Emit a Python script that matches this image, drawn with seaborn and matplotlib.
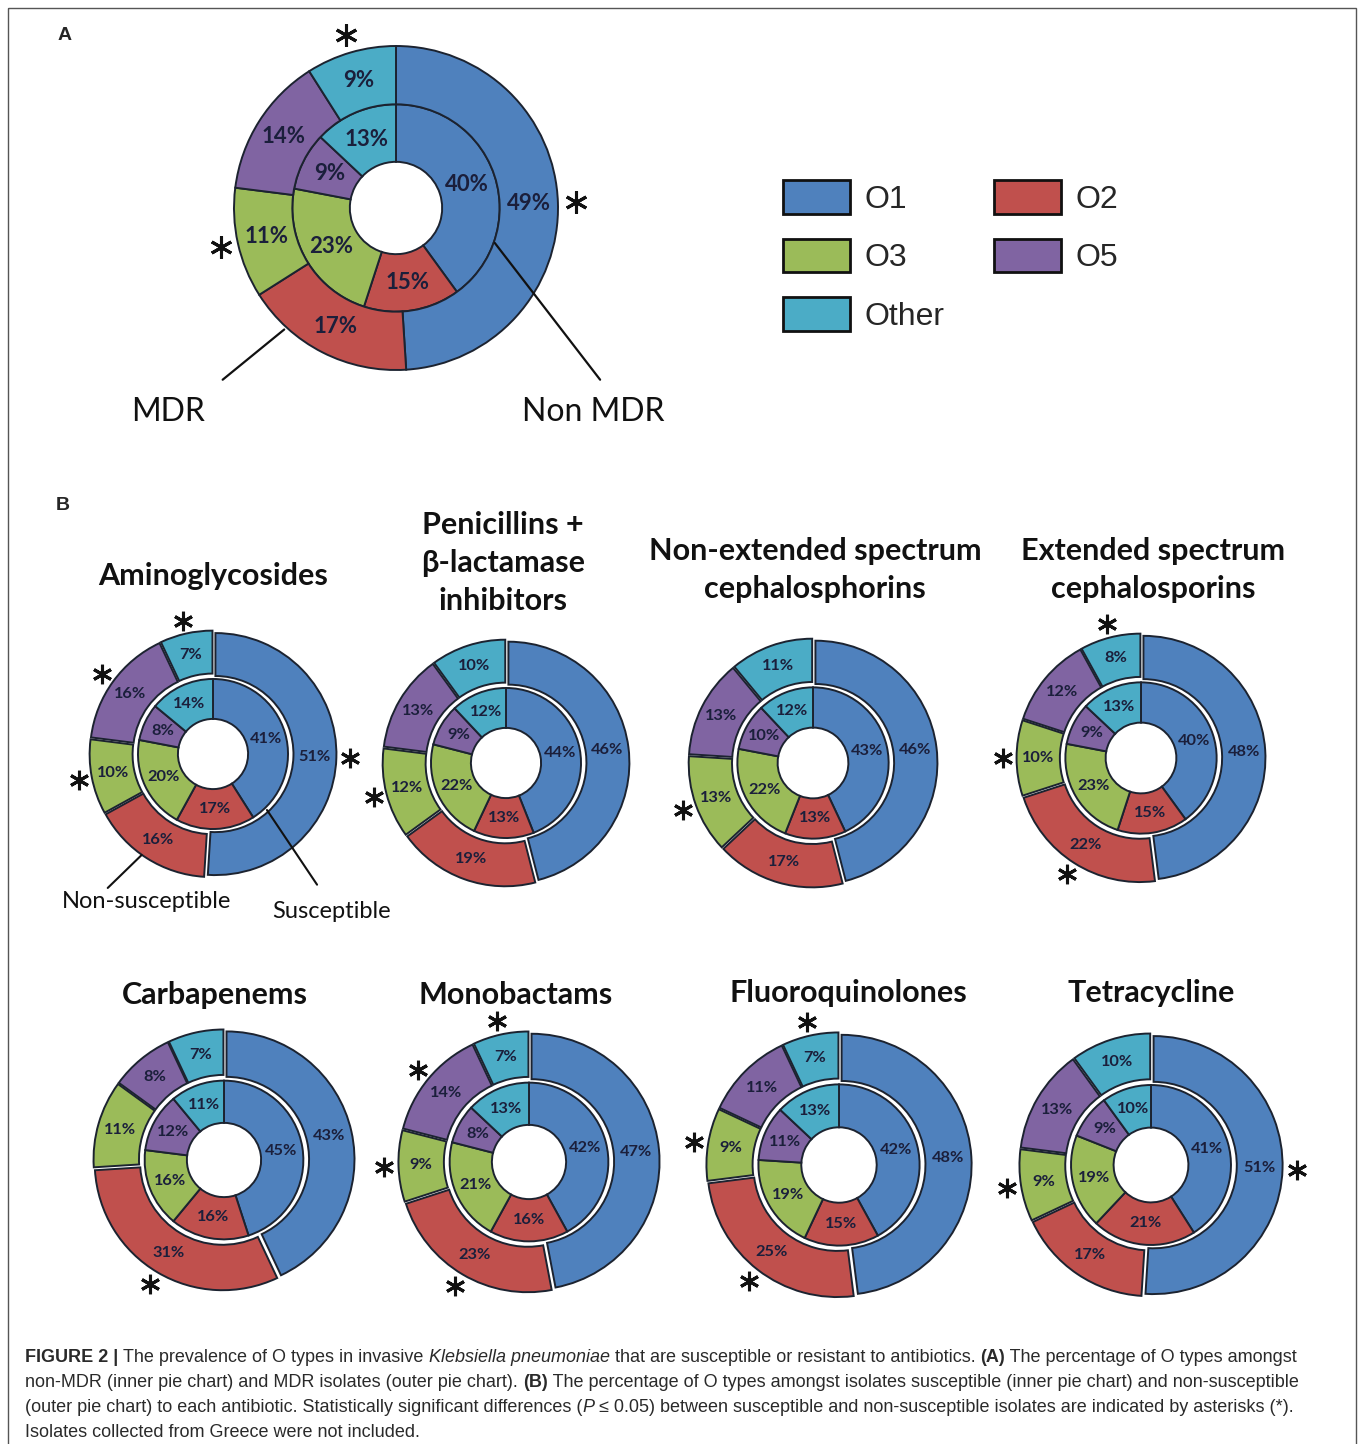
import numpy as np
import matplotlib.pyplot as plt
import seaborn as sns
from matplotlib.patches import Patch, Rectangle

# O types and the colours used for them
otypes = ["O1", "O2", "O3", "O5", "Other"]
colors = ["#4F81BD", "#C0504D", "#9BBB59", "#8064A2", "#4BACC6"]

# panel A: non-MDR (inner) vs MDR (outer), percent
nonmdr_pct = [40, 15, 23, 9, 13]
mdr_pct = [49, 17, 11, 14, 9]
mdr_sig = ["O1", "O3", "Other"]

# panel B: susceptible (inner) vs non-susceptible (outer), percent
drugs = ["Aminoglycosides",
         "Penicillins +\nβ-lactamase\ninhibitors",
         "Non-extended spectrum\ncephalosphorins",
         "Extended spectrum\ncephalosporins",
         "Carbapenems", "Monobactams", "Fluoroquinolones", "Tetracycline"]
susceptible_pct = [
    [41, 17, 20, 8, 14],
    [44, 13, 22, 9, 12],
    [43, 13, 22, 10, 12],
    [40, 15, 23, 9, 13],
    [45, 16, 16, 12, 11],
    [42, 16, 21, 8, 13],
    [42, 15, 19, 11, 13],
    [41, 21, 19, 9, 10],
]
nonsusceptible_pct = [
    [51, 16, 10, 16, 7],
    [46, 19, 12, 13, 10],
    [46, 17, 13, 13, 11],
    [48, 22, 10, 12, 8],
    [43, 31, 11, 8, 7],
    [47, 23, 9, 14, 7],
    [48, 25, 9, 11, 7],
    [51, 17, 9, 13, 10],
]
significant = [
    ["O1", "O3", "O5", "Other"],
    ["O3"],
    ["O3"],
    ["O2", "O3", "Other"],
    ["O2"],
    ["O2", "O3", "O5", "Other"],
    ["O2", "O3", "Other"],
    ["O1", "O3"],
]

# layout (pixels)
W, H = 1358, 1444
pie_centers = [(213, 754), (506, 763), (813, 763), (1141, 758),
               (224, 1160), (529, 1162), (839, 1165), (1151, 1165)]
pie_radius = [121, 121, 122, 122, 128, 128, 130, 129]
title_pos = [(213, 576), (503, 563), (815, 570), (1153, 570),
             (215, 995), (516, 995), (848, 993), (1151, 993)]

sns.set_theme(style="white")
sns.set_palette(colors)
plt.rcParams['font.family'] = ['Lato', 'DejaVu Sans']

EDGE = "#1c2330"
LABEL = "#1b1f3b"

fig = plt.figure(figsize=(W / 100, H / 100), dpi=100)
bg = fig.add_axes([0, 0, 1, 1])
bg.set_xlim(0, W)
bg.set_ylim(H, 0)
bg.axis('off')
bg.add_patch(Rectangle((8, 8), W - 10, H - 6, fill=False, ec="#555555", lw=1))


def pie_axes(cx, cy, r, pad=1.35):
    ax = fig.add_axes([(cx - pad * r) / W, 1 - (cy + pad * r) / H,
                       2 * pad * r / W, 2 * pad * r / H])
    ax.axis('off')
    return ax, pad


def polar(r, deg):
    t = np.deg2rad(deg)
    return r * np.cos(t), r * np.sin(t)


def double_donut(ax, pad, inner, outer, sig, hole, r_in, r_out0, explode, fs, ms):
    win, _ = ax.pie(inner, radius=r_in, colors=colors, startangle=90,
                    counterclock=False,
                    wedgeprops=dict(width=r_in - hole, edgecolor=EDGE, linewidth=1.4))
    wout, _ = ax.pie(outer, radius=1.0, colors=colors, startangle=90,
                     counterclock=False, explode=[explode] * len(outer),
                     wedgeprops=dict(width=1.0 - r_out0, edgecolor=EDGE, linewidth=1.4))
    # pie() resets the limits, so fix them afterwards
    ax.set_xlim(-pad, pad)
    ax.set_ylim(-pad, pad)
    ax.set_aspect('equal')
    for w, v in zip(win, inner):
        x, y = polar((hole + r_in) / 2, (w.theta1 + w.theta2) / 2)
        ax.text(x, y, f"{v}%", ha='center', va='center', fontsize=fs,
                fontweight='bold', color=LABEL)
    for w, v, name in zip(wout, outer, otypes):
        mid = (w.theta1 + w.theta2) / 2
        x, y = polar((r_out0 + 1.0) / 2 + explode, mid)
        ax.text(x, y, f"{v}%", ha='center', va='center', fontsize=fs,
                fontweight='bold', color=LABEL)
        if name in sig:
            sx, sy = polar(1.11 + explode, mid)
            ax.plot([sx], [sy], marker=(6, 2, 0), ms=ms, mew=2.2,
                    color="#111111", clip_on=False)


# ---- panel A
bg.text(65, 35, "A", fontsize=14, fontweight='bold', ha='center', va='center',
        family=['Liberation Sans', 'DejaVu Sans'])
axA, padA = pie_axes(396, 208, 162, pad=1.6)
double_donut(axA, padA, nonmdr_pct, mdr_pct, mdr_sig, 0.285, 0.64, 0.64, 0.0, 16, 16)
axA.plot([-0.69, -1.07], [-0.75, -1.06], color="#111111", lw=1.6, clip_on=False)
axA.plot([0.61, 1.26], [-0.216, -1.06], color="#111111", lw=1.6, clip_on=False)
axA.text(-1.41, -1.26, "MDR", fontsize=23, ha='center', va='center', color="#111111")
axA.text(1.22, -1.26, "Non MDR", fontsize=23, ha='center', va='center', color="#111111")

handles = [Patch(facecolor=c, edgecolor="#111111", lw=2) for c in colors]
order = [0, 2, 4, 1, 3]
fig.legend([handles[i] for i in order], [otypes[i] for i in order], ncol=2,
           loc='upper left', bbox_to_anchor=(767 / W, 1 - 164 / H), frameon=False,
           prop=dict(family=['Liberation Sans', 'DejaVu Sans'], size=23),
           handlelength=2.1, handleheight=1.25, handletextpad=0.45,
           labelspacing=0.75, columnspacing=1.55, borderpad=0)

# ---- panel B
bg.text(63, 505, "B", fontsize=14, fontweight='bold', ha='center', va='center',
        family=['Liberation Sans', 'DejaVu Sans'])
for i, drug in enumerate(drugs):
    cx, cy = pie_centers[i]
    ax, pad = pie_axes(cx, cy, pie_radius[i])
    double_donut(ax, pad, susceptible_pct[i], nonsusceptible_pct[i], significant[i],
                 0.29, 0.62, 0.645, 0.02, 11.8, 14)
    tx, ty = title_pos[i]
    bg.text(tx, ty, drug, fontsize=22, fontweight='bold', ha='center',
            va='center', linespacing=1.42, color="#111111")
    if i == 0:
        ax.plot([-0.59, -0.87], [-0.835, -1.107], color="#111111", lw=1.5, clip_on=False)
        ax.plot([0.446, 0.86], [-0.463, -1.08], color="#111111", lw=1.5, clip_on=False)
        ax.text(-0.55, -1.22, "Non-susceptible", fontsize=17, ha='center', va='center', color="#111111")
        ax.text(0.98, -1.30, "Susceptible", fontsize=17, ha='center', va='center', color="#111111")

# ---- caption, mixed styles chained piece by piece
cap_family = ['Liberation Sans', 'DejaVu Sans']
caption = [
    [("FIGURE 2 | ", 'bold', 'normal'),
     ("The prevalence of O types in invasive ", 'normal', 'normal'),
     ("Klebsiella pneumoniae", 'normal', 'italic'),
     (" that are susceptible or resistant to antibiotics. ", 'normal', 'normal'),
     ("(A)", 'bold', 'normal'),
     (" The percentage of O types amongst", 'normal', 'normal')],
    [("non-MDR (inner pie chart) and MDR isolates (outer pie chart). ", 'normal', 'normal'),
     ("(B)", 'bold', 'normal'),
     (" The percentage of O types amongst isolates susceptible (inner pie chart) and non-susceptible", 'normal', 'normal')],
    [("(outer pie chart) to each antibiotic. Statistically significant differences (", 'normal', 'normal'),
     ("P", 'normal', 'italic'),
     (" ≤ 0.05) between susceptible and non-susceptible isolates are indicated by asterisks (*).", 'normal', 'normal')],
    [("Isolates collected from Greece were not included.", 'normal', 'normal')],
]
for k, line in enumerate(caption):
    prev = None
    for s, wt, st in line:
        kw = dict(fontsize=12.95, fontweight=wt, fontstyle=st, family=cap_family,
                  color="#2a2a2a", ha='left')
        if prev is None:
            prev = bg.text(25, 1362 + 25 * k, s, va='baseline', **kw)
        else:
            prev = bg.annotate(s, xy=(1, 0), xycoords=prev, va='bottom', **kw)

fig.savefig("out.png", dpi=100)
